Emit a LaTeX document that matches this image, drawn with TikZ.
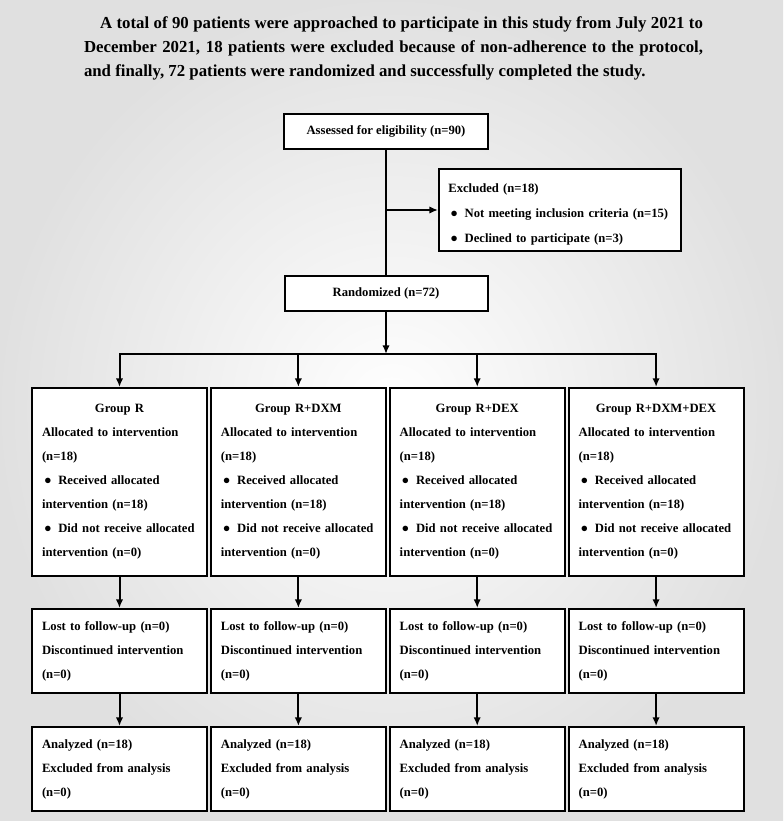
\documentclass[tikz,border=0pt]{standalone}
\usepackage{fontspec}
\setmainfont{Liberation Serif}
\usetikzlibrary{positioning,arrows.meta}
\newcommand{\itemdot}{\hspace{1.5pt}●\hspace{5pt}}
\newcommand{\grouphead}[1]{\makebox[\linewidth]{#1}\\}

\begin{document}
\begin{tikzpicture}[x=0.75pt, y=-0.75pt,
  box node/.style={draw, line width=1.5pt, fill=white, font=\bfseries\fontsize{9.5}{18}\selectfont, inner xsep=7.5pt, inner ysep=2pt},
  group node/.style={box node, text width=116.25pt, minimum height=141pt, align=left},
  stage node/.style={box node, text width=116.25pt, minimum height=63pt, align=left},
  flow arrow/.style={line width=1.5pt, -{Latex[length=6.5pt,width=5.5pt]}}]
  \shade[inner color=white, outer color=black!12] (0,0) rectangle (783,821);
  \useasboundingbox (0,0) rectangle (783,821);

  \node[anchor=north, text width=464.25pt, align=justify, inner sep=0pt, font=\bfseries\fontsize{12.6}{18}\selectfont] (title) at (393.5,16) {\hspace*{12pt}A total of 90 patients were approached to participate in this study from July 2021 to\linebreak December 2021, 18 patients were excluded because of non-adherence to the protocol,\linebreak and finally, 72 patients were randomized and successfully completed the study.};

  \node[box node, minimum width=153pt, minimum height=26.25pt] (assess) at (386,131.5) {Assessed for eligibility (n=90)};
  \node[box node, inner xsep=7pt, text width=167.5pt, text height=13pt, minimum height=61.5pt, align=left, font=\bfseries\fontsize{9.5}{18.75}\selectfont] (excl) at (560,210) {Excluded (n=18)\\\itemdot Not meeting inclusion criteria (n=15)\\\itemdot Declined to participate (n=3)};
  \node[box node, minimum width=152.25pt, minimum height=26.25pt] (rand) [below=93.75pt of assess] {Randomized (n=72)};
  \coordinate[below=31.5pt of rand] (split);

  % allocation
  \node[group node] (g1) at (119.5,482) {\grouphead{Group R}Allocated to intervention\\(n=18)\\\itemdot Received allocated\\intervention (n=18)\\\itemdot Did not receive allocated\\intervention (n=0)};
  \node[group node] (g2) [right=1.4pt of g1] {\grouphead{Group R+DXM}Allocated to intervention\\(n=18)\\\itemdot Received allocated\\intervention (n=18)\\\itemdot Did not receive allocated\\intervention (n=0)};
  \node[group node] (g3) [right=1.4pt of g2] {\grouphead{Group R+DEX}Allocated to intervention\\(n=18)\\\itemdot Received allocated\\intervention (n=18)\\\itemdot Did not receive allocated\\intervention (n=0)};
  \node[group node] (g4) [right=1.4pt of g3] {\grouphead{Group R+DXM+DEX}Allocated to intervention\\(n=18)\\\itemdot Received allocated\\intervention (n=18)\\\itemdot Did not receive allocated\\intervention (n=0)};

  % follow-up
  \node[stage node] (l1) [below=23.25pt of g1] {Lost to follow-up (n=0)\\Discontinued intervention\\(n=0)};
  \node[stage node] (l2) [below=23.25pt of g2] {Lost to follow-up (n=0)\\Discontinued intervention\\(n=0)};
  \node[stage node] (l3) [below=23.25pt of g3] {Lost to follow-up (n=0)\\Discontinued intervention\\(n=0)};
  \node[stage node] (l4) [below=23.25pt of g4] {Lost to follow-up (n=0)\\Discontinued intervention\\(n=0)};

  % analysis
  \node[stage node] (a1) [below=24pt of l1] {Analyzed (n=18)\\Excluded from analysis\\(n=0)};
  \node[stage node] (a2) [below=24pt of l2] {Analyzed (n=18)\\Excluded from analysis\\(n=0)};
  \node[stage node] (a3) [below=24pt of l3] {Analyzed (n=18)\\Excluded from analysis\\(n=0)};
  \node[stage node] (a4) [below=24pt of l4] {Analyzed (n=18)\\Excluded from analysis\\(n=0)};

  \draw[line width=1.5pt] (assess) -- (rand);
  \draw[flow arrow] (assess.south |- excl.west) -- (excl.west);
  \draw[flow arrow] (rand) -- (split);
  \draw[flow arrow] (split) -| (g1);
  \draw[flow arrow] (split) -| (g4);
  \draw[flow arrow] (g2.north |- split) -- (g2);
  \draw[flow arrow] (g3.north |- split) -- (g3);
  \draw[flow arrow] (g1) -- (l1);
  \draw[flow arrow] (g2) -- (l2);
  \draw[flow arrow] (g3) -- (l3);
  \draw[flow arrow] (g4) -- (l4);
  \draw[flow arrow] (l1) -- (a1);
  \draw[flow arrow] (l2) -- (a2);
  \draw[flow arrow] (l3) -- (a3);
  \draw[flow arrow] (l4) -- (a4);
\end{tikzpicture}
\end{document}
